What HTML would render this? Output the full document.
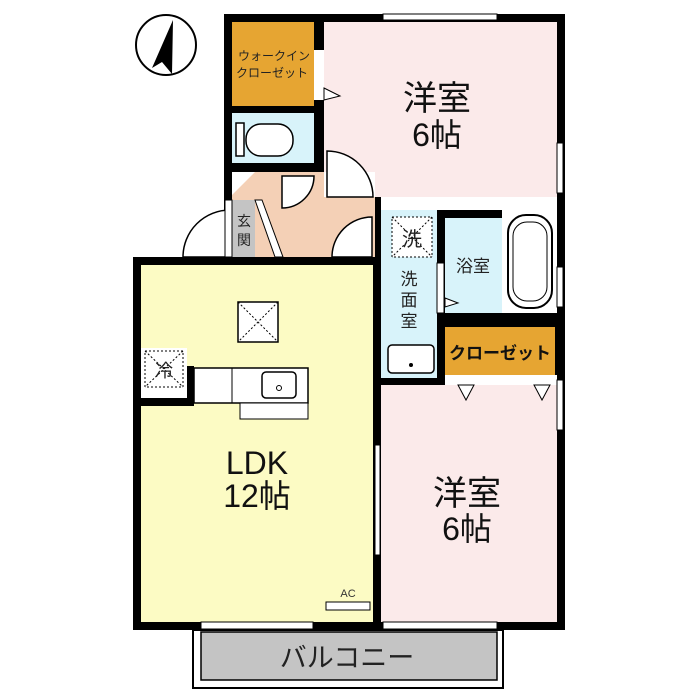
<!DOCTYPE html>
<html><head><meta charset="utf-8"><style>
html,body{margin:0;padding:0;background:#fff}
svg{display:block}
text{font-family:"Liberation Sans","Noto Sans CJK JP",sans-serif}
</style></head><body>
<svg width="700" height="700" viewBox="0 0 700 700" xmlns="http://www.w3.org/2000/svg">
<!-- compass -->
<circle cx="166" cy="45" r="30" fill="#fff" stroke="#000" stroke-width="2"/>
<polygon points="173,20 152,68 162,62 172,74" fill="#000"/>

<!-- balcony -->
<rect x="193" y="630" width="310" height="58" fill="#fff" stroke="#000" stroke-width="2"/>
<rect x="201" y="632" width="296" height="48" fill="#c4c4c4" stroke="#000" stroke-width="1.5"/>
<text x="347" y="667" font-size="27" text-anchor="middle" fill="#222">バルコニー</text>

<!-- outer wall fills -->
<rect x="224" y="14" width="341" height="250" fill="#000"/>
<rect x="133" y="257" width="432" height="373" fill="#000"/>

<!-- room fills -->
<rect x="324" y="22" width="233" height="175" fill="#fbeaea"/>
<rect x="232" y="22" width="82" height="84" fill="#e6a532"/>
<rect x="232" y="113" width="82" height="50" fill="#d8f3fa"/>
<rect x="232" y="172" width="143" height="85" fill="#f4d0b6"/>
<polygon points="232,172 255,172 232,195" fill="#fff"/>
<rect x="232" y="200" width="23" height="57" fill="#c4c4c4"/>
<polygon points="255,200 262,200 283,257 275,257" fill="#fff" stroke="#000" stroke-width="1"/>
<rect x="324" y="172" width="51" height="25" fill="#fff"/>
<rect x="141" y="265" width="232" height="357" fill="#fcfbc4"/>
<rect x="381" y="210" width="56" height="168" fill="#d8f3fa"/>
<rect x="445" y="218" width="57" height="95" fill="#d8f3fa"/>
<rect x="502" y="210" width="55" height="103" fill="#fff"/>
<rect x="445" y="327" width="110" height="48" fill="#e6a532"/>
<rect x="445" y="375" width="112" height="10" fill="#fff"/>
<rect x="381" y="385" width="176" height="237" fill="#fbeaea"/>
<rect x="381" y="197" width="176" height="13" fill="#fff"/>

<!-- tub -->
<rect x="508" y="215" width="44" height="93" rx="18" fill="#fff" stroke="#000" stroke-width="2"/>
<rect x="513" y="222" width="34" height="79" rx="14" fill="none" stroke="#000" stroke-width="1"/>
<!-- toilet -->
<rect x="236" y="123" width="8" height="33" fill="#fff" stroke="#000" stroke-width="1.5"/>
<rect x="246" y="124" width="47" height="32" rx="15" fill="#fff" stroke="#000" stroke-width="1.5"/>
<!-- wash items -->
<rect x="392" y="217" width="40" height="40" fill="#fff" stroke="#000" stroke-width="1" stroke-dasharray="2,2"/>
<line x1="392" y1="217" x2="432" y2="257" stroke="#000" stroke-dasharray="2,2"/>
<line x1="432" y1="217" x2="392" y2="257" stroke="#000" stroke-dasharray="2,2"/>
<text x="412" y="246" font-size="20" text-anchor="middle" fill="#222">洗</text>
<rect x="388" y="345" width="46" height="28" rx="4" fill="#fff" stroke="#000" stroke-width="1.5"/>
<circle cx="411" cy="365" r="2" fill="#000"/>
<!-- kitchen -->
<rect x="141" y="348" width="46" height="50" fill="#fff"/>
<rect x="145" y="351" width="38" height="36" fill="#fff" stroke="#000" stroke-dasharray="2,2"/>
<line x1="145" y1="351" x2="183" y2="387" stroke="#000" stroke-dasharray="2,2"/>
<line x1="183" y1="351" x2="145" y2="387" stroke="#000" stroke-dasharray="2,2"/>
<text x="164" y="377" font-size="18" text-anchor="middle" fill="#222">冷</text>
<rect x="187" y="366" width="7" height="40" fill="#000"/>
<rect x="194" y="368" width="114" height="35" fill="#fff" stroke="#000" stroke-width="1.5"/>
<line x1="232" y1="368" x2="232" y2="403" stroke="#000"/>
<rect x="262" y="372" width="34" height="26" rx="4" fill="#fff" stroke="#000" stroke-width="1.5"/>
<circle cx="279" cy="388" r="2.5" fill="none" stroke="#000"/>
<rect x="141" y="398" width="53" height="8" fill="#000"/>
<rect x="240" y="403" width="68" height="16" fill="#fff" stroke="#000" stroke-width="1"/>
<!-- ceiling vent -->
<rect x="238" y="302" width="40" height="40" fill="#fff" stroke="#000" stroke-width="1.5"/>
<line x1="238" y1="302" x2="278" y2="342" stroke="#000" stroke-dasharray="2,2"/>
<line x1="278" y1="302" x2="238" y2="342" stroke="#000" stroke-dasharray="2,2"/>
<!-- AC -->
<rect x="326" y="602" width="44" height="8" fill="#fff" stroke="#000"/>
<text x="348" y="597" font-size="11" text-anchor="middle" fill="#333">AC</text>

<!-- doors -->
<path d="M193,257 L193,210 A47,47 0 0 0 146,257 Z" fill="#fff" stroke="#000" stroke-width="1.5" transform="translate(37,0)"/>
<rect x="225" y="200" width="7" height="57" fill="#fff" stroke="#000" stroke-width="1"/>
<path d="M282,176 L282,208 A32,32 0 0 0 314,176 Z" fill="#fff" stroke="#000" stroke-width="1.5"/>
<path d="M327,197 L327,151 A46,46 0 0 1 373,197 Z" fill="#fff" stroke="#000" stroke-width="1.5"/>
<path d="M372,257 L372,217 A40,40 0 0 0 332,257 Z" fill="#fff" stroke="#000" stroke-width="1.5"/>
<rect x="314" y="50" width="10" height="50" fill="#fff"/>
<polygon points="324,88 340,96 324,100" fill="#fff" stroke="#000"/>
<polygon points="445,298 458,303 445,307" fill="#fff" stroke="#000"/>
<polygon points="458,385 466,400 474,385" fill="#fff" stroke="#000"/>
<polygon points="534,385 542,400 550,385" fill="#fff" stroke="#000"/>
<!-- windows -->
<rect x="383" y="14" width="114" height="6" fill="#fff" stroke="#000"/>
<rect x="557" y="143" width="6" height="50" fill="#fff" stroke="#000"/>
<rect x="557" y="380" width="6" height="50" fill="#fff" stroke="#000"/>
<rect x="557" y="267" width="6" height="40" fill="#fff" stroke="#000"/>
<rect x="201" y="622" width="112" height="7" fill="#fff" stroke="#000"/>
<rect x="383" y="622" width="114" height="7" fill="#fff" stroke="#000"/>
<rect x="375" y="445" width="5" height="110" fill="#fff" stroke="#000"/>
<rect x="437" y="263" width="7" height="50" fill="#fff" stroke="#000"/>

<!-- labels -->
<text x="274" y="60" font-size="12" text-anchor="middle" fill="#222">ウォークイン</text>
<text x="272" y="77" font-size="12" text-anchor="middle" fill="#222">クローゼット</text>
<text x="437" y="110" font-size="34" text-anchor="middle" fill="#111">洋室</text>
<text x="437" y="146" font-size="32" text-anchor="middle" fill="#111">6帖</text>
<text x="244" y="226" font-size="14" text-anchor="middle" fill="#222">玄</text>
<text x="244" y="245" font-size="14" text-anchor="middle" fill="#222">関</text>
<text x="473" y="272" font-size="17" text-anchor="middle" fill="#222">浴室</text>
<text x="409" y="285" font-size="17" text-anchor="middle" fill="#222">洗</text>
<text x="409" y="306" font-size="17" text-anchor="middle" fill="#222">面</text>
<text x="409" y="327" font-size="17" text-anchor="middle" fill="#222">室</text>
<text x="500" y="359" font-size="17" text-anchor="middle" fill="#111" font-weight="bold">クローゼット</text>
<text x="257" y="474" font-size="32" text-anchor="middle" fill="#111">LDK</text>
<text x="257" y="507" font-size="32" text-anchor="middle" fill="#111">12帖</text>
<text x="467" y="505" font-size="34" text-anchor="middle" fill="#111">洋室</text>
<text x="467" y="540" font-size="32" text-anchor="middle" fill="#111">6帖</text>
</svg>
</body></html>
